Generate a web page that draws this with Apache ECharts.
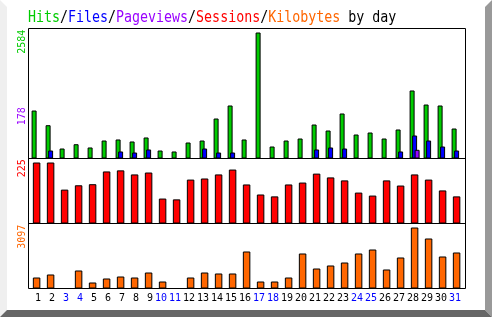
<!DOCTYPE html>
<html><head><meta charset="utf-8">
<script src="https://cdn.jsdelivr.net/npm/echarts@6/dist/echarts.min.js"></script>
<style>html,body{margin:0;padding:0;background:#fff}#c{width:492px;height:317px}</style>
</head><body><div id="c"></div>
<script>
const days = ['1','2','3','4','5','6','7','8','9','10','11','12','13','14','15','16','17','18','19','20','21','22','23','24','25','26','27','28','29','30','31'];
const weekendDays = ['3','4','10','11','17','18','24','25','31'];
const hits = [984,683,205,293,226,369,390,349,431,164,144,328,369,820,1087,390,2584,246,369,410,697,574,923,492,533,410,595,1395,1107,1087,615];
const files = [null,164,null,null,null,null,144,123,185,null,null,null,205,123,123,null,null,null,null,null,185,226,205,null,null,null,144,472,369,246,164];
const pageviews = [null,null,null,null,null,null,null,null,null,null,null,null,null,null,null,null,null,null,null,null,null,null,null,null,null,null,null,178,null,null,null];
const sessions = [225,225,125,141,145,192,196,181,188,92,89,162,166,181,199,144,107,100,144,151,184,170,159,114,103,159,140,181,162,122,100];
const kilobytes = [558,711,0,914,305,508,609,558,812,355,0,558,812,762,762,1879,355,355,558,1777,1015,1168,1320,1777,1980,965,1574,3097,2539,1625,1828];

const maxOf = a => Math.max(...a.filter(v => v != null));
const hitsMax = maxOf(hits), pagesMax = maxOf(pageviews), sessMax = maxOf(sessions), kbMax = maxOf(kilobytes);

const MONO = '"DejaVu Sans Mono", "Liberation Mono", monospace';
const L = 29.6, W = 434;
const C = {hits:'#00cc00', files:'#0000ff', pages:'#9900ff', sess:'#ff0000', kb:'#ff6600'};

function hiddenX(i){ return {type:'category', data:days, gridIndex:i, show:i===2, boundaryGap:true,
  axisLine:{show:false}, axisTick:{show:false},
  axisLabel:{show:i===2, interval:0, margin:5, fontFamily:MONO, fontSize:10,
    formatter: v => weekendDays.includes(v) ? '{we|'+v+'}' : '{wd|'+v+'}',
    rich:{wd:{width:9, align:'right', color:'#000', fontFamily:MONO, fontSize:10},
          we:{width:9, align:'right', color:'#0000ff', fontFamily:MONO, fontSize:10}}}}; }
function hiddenY(i,max){ return {type:'value', gridIndex:i, min:0, max:max, show:false, splitLine:{show:false}}; }

const bs = {borderColor:'#000', borderWidth:1};
const chart = echarts.init(document.getElementById('c'), null, {renderer:'canvas'});
chart.setOption({
  animation:false,
  backgroundColor:'#fff',
  grid:[
    {left:L, width:W, top:28.5, height:130},
    {left:L, width:W, top:158.5, height:65},
    {left:L, width:W, top:223.5, height:65}
  ],
  xAxis:[hiddenX(0), hiddenX(1), hiddenX(2)],
  yAxis:[hiddenY(0, hitsMax*130/126), hiddenY(1, sessMax*65/61), hiddenY(2, kbMax*65/61)],
  series:[
    {name:'Hits', type:'bar', xAxisIndex:0, yAxisIndex:0, data:hits, barWidth:5, barGap:'-50%', itemStyle:Object.assign({color:C.hits}, bs)},
    {name:'Files', type:'bar', xAxisIndex:0, yAxisIndex:0, data:files, barWidth:5, barGap:'-50%', itemStyle:Object.assign({color:C.files}, bs)},
    {name:'Pageviews', type:'bar', xAxisIndex:0, yAxisIndex:0, data:pageviews, barWidth:5, barGap:'-50%', itemStyle:Object.assign({color:C.pages}, bs)},
    {name:'Sessions', type:'bar', xAxisIndex:1, yAxisIndex:1, data:sessions, barWidth:7.5, itemStyle:Object.assign({color:C.sess}, bs)},
    {name:'Kilobytes', type:'bar', xAxisIndex:2, yAxisIndex:2, data:kilobytes, barWidth:7.5, itemStyle:Object.assign({color:C.kb}, bs)}
  ],
  graphic:[
    {type:'polygon', shape:{points:[[0,0],[7,7],[7,310],[0,317]]}, style:{fill:'#efefef'}, z:1},
    {type:'polygon', shape:{points:[[485,7],[492,0],[492,317],[485,310]]}, style:{fill:'#999999'}, z:1},
    {type:'polygon', shape:{points:[[0,317],[7,310],[485,310],[492,317]]}, style:{fill:'#666666'}, z:1},
    {type:'rect', shape:{x:28.5, y:28.5, width:437, height:260}, style:{fill:null, stroke:'#000', lineWidth:1}, z:100},
    {type:'line', shape:{x1:28.5, y1:158.5, x2:465.5, y2:158.5}, style:{stroke:'#000', lineWidth:1}, z:100},
    {type:'line', shape:{x1:28.5, y1:223.5, x2:465.5, y2:223.5}, style:{stroke:'#000', lineWidth:1}, z:100},
    {type:'text', x:28, y:17.5, scaleY:1.25, z:100, style:{
      text:'{g|Hits}/{b|Files}/{p|Pageviews}/{r|Sessions}/{o|Kilobytes} by day',
      font:'13.3px '+MONO, fill:'#000', verticalAlign:'middle', align:'left',
      rich:{g:{fill:C.hits, font:'13.3px '+MONO}, b:{fill:C.files, font:'13.3px '+MONO}, p:{fill:C.pages, font:'13.3px '+MONO},
            r:{fill:C.sess, font:'13.3px '+MONO}, o:{fill:C.kb, font:'13.3px '+MONO}}}},
    {type:'text', x:22, y:41.7, rotation:Math.PI/2, z:100, style:{text:String(hitsMax), font:'10px '+MONO, fill:C.hits, align:'center', verticalAlign:'middle'}},
    {type:'text', x:22, y:116.3, rotation:Math.PI/2, z:100, style:{text:String(pagesMax), font:'10px '+MONO, fill:C.pages, align:'center', verticalAlign:'middle'}},
    {type:'text', x:22, y:168.3, rotation:Math.PI/2, z:100, style:{text:String(sessMax), font:'10px '+MONO, fill:C.sess, align:'center', verticalAlign:'middle'}},
    {type:'text', x:22, y:236.7, rotation:Math.PI/2, z:100, style:{text:String(kbMax), font:'10px '+MONO, fill:C.kb, align:'center', verticalAlign:'middle'}}
  ]
});
</script></body></html>
